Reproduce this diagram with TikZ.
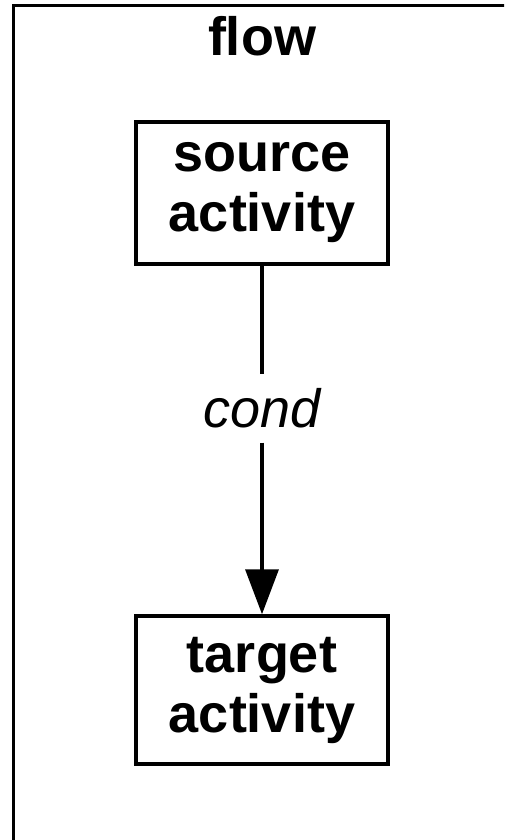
\documentclass[tikz,border=0pt]{standalone}
\usepackage{fontspec}
\setmainfont{Liberation Sans}
\usetikzlibrary{arrows.meta}
\begin{document}
\begin{tikzpicture}[x=0.5pt,y=-0.5pt,
  frame/.style={draw, line width=1.5pt, minimum width=265pt, minimum height=435pt, inner sep=0pt},
  activity/.style={draw, line width=1.75pt, align=center, inner sep=0pt,
    font=\bfseries\fontsize{27}{30}\selectfont, text width=120pt},
  title/.style={font=\bfseries\fontsize{27}{30}\selectfont, inner sep=0pt},
  condlabel/.style={fill=white, inner sep=7pt, font=\itshape\fontsize{27}{30}\selectfont},
  flowline/.style={line width=1.75pt},
  arrowtip/.style={-{Triangle[length=22.5pt,width=16.5pt]}}]
\useasboundingbox (0,0) rectangle (504,840);
\clip (0,0) rectangle (504,840);
\fill[white] (0,0) rectangle (504,840);
\node[frame, anchor=north west] (flow) at (12,4) {};
\node[title, anchor=base] (flowlabel) at (262,56) {flow};
\node[activity, minimum width=126pt, minimum height=71pt] (source) at (262,193) {source\\activity};
\node[activity, minimum width=126pt, minimum height=74pt] (target) at (262,690) {target\\activity};
\node[condlabel] (cond) at (262,408.5) {cond};
\draw[flowline] (source) -- (cond);
\draw[flowline, arrowtip] (cond) -- (target);
\end{tikzpicture}
\end{document}
